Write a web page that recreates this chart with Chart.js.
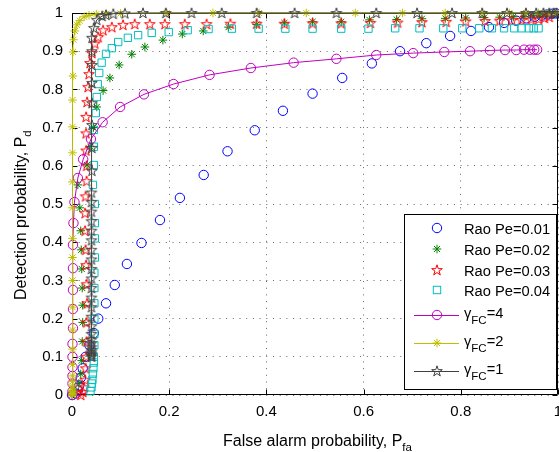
<!DOCTYPE html>
<html>
<head>
<meta charset="utf-8">
<script src="https://cdn.jsdelivr.net/npm/chart.js@4.4.0/dist/chart.umd.min.js"></script>
<style>
  html, body { margin: 0; padding: 0; background: #fff; }
  canvas { display: block; }
</style>
</head>
<body>
<canvas id="roc" width="559" height="452"></canvas>
<script>
// tick values
const xTickValues = [0, 0.2, 0.4, 0.6, 0.8, 1];
const yTickValues = [0, 0.1, 0.2, 0.3, 0.4, 0.5, 0.6, 0.7, 0.8, 0.9, 1];

// Rao Pe=0.01 (blue circles)
const rao01X = [0, 0.008, 0.012, 0.015, 0.018, 0.022, 0.028, 0.036, 0.045, 0.054, 0.07, 0.088, 0.113, 0.143, 0.181, 0.222, 0.271, 0.32, 0.376, 0.434, 0.495, 0.556, 0.617, 0.675, 0.729, 0.778, 0.821, 0.858, 0.889, 0.914, 0.935, 0.952, 0.966, 0.978, 0.988, 0.996];
const rao01Y = [0, 0.004, 0.012, 0.025, 0.045, 0.07, 0.1, 0.13, 0.162, 0.2, 0.24, 0.288, 0.343, 0.398, 0.458, 0.516, 0.576, 0.638, 0.693, 0.744, 0.789, 0.83, 0.868, 0.9, 0.921, 0.94, 0.953, 0.963, 0.974, 0.98, 0.986, 0.99, 0.993, 0.996, 0.998, 0.999];

// Rao Pe=0.02 (green asterisks)
const rao02X = [0, 0.008, 0.014, 0.018, 0.02, 0.021, 0.022, 0.022, 0.021, 0.02, 0.019, 0.018, 0.016, 0.012, 0.031, 0.038, 0.044, 0.051, 0.064, 0.078, 0.097, 0.123, 0.15, 0.187, 0.227, 0.27, 0.322, 0.38, 0.437, 0.495, 0.554, 0.612, 0.668, 0.72, 0.768, 0.81, 0.848, 0.88, 0.908, 0.93, 0.948, 0.962, 0.975];
const rao02Y = [0, 0.01, 0.03, 0.055, 0.09, 0.14, 0.19, 0.235, 0.28, 0.33, 0.38, 0.43, 0.49, 0.55, 0.602, 0.65, 0.7, 0.754, 0.797, 0.83, 0.864, 0.892, 0.911, 0.929, 0.945, 0.953, 0.963, 0.97, 0.974, 0.977, 0.977, 0.982, 0.983, 0.985, 0.986, 0.987, 0.988, 0.989, 0.99, 0.991, 0.993, 0.995, 0.997];

// Rao Pe=0.03 (red pentagrams)
const rao03X = [0.018, 0.022, 0.025, 0.027, 0.028, 0.029, 0.03, 0.03, 0.031, 0.03, 0.029, 0.028, 0.027, 0.027, 0.028, 0.03, 0.03, 0.029, 0.029, 0.029, 0.031, 0.033, 0.035, 0.037, 0.041, 0.047, 0.054, 0.064, 0.082, 0.105, 0.129, 0.16, 0.191, 0.232, 0.277, 0.326, 0.38, 0.437, 0.495, 0.554, 0.614, 0.67, 0.72, 0.77, 0.81, 0.85, 0.88, 0.905, 0.925, 0.945, 0.96, 0.972, 0.982];
const rao03Y = [0, 0.008, 0.02, 0.04, 0.07, 0.1, 0.14, 0.19, 0.24, 0.29, 0.34, 0.38, 0.43, 0.476, 0.52, 0.56, 0.6, 0.64, 0.685, 0.728, 0.767, 0.806, 0.84, 0.869, 0.895, 0.92, 0.937, 0.955, 0.963, 0.969, 0.971, 0.971, 0.971, 0.971, 0.971, 0.972, 0.972, 0.972, 0.973, 0.973, 0.974, 0.975, 0.976, 0.977, 0.978, 0.979, 0.98, 0.981, 0.982, 0.983, 0.984, 0.987, 0.99];

// Rao Pe=0.04 (cyan squares)
const rao04X = [0.038, 0.04, 0.041, 0.042, 0.043, 0.044, 0.045, 0.045, 0.046, 0.046, 0.046, 0.046, 0.046, 0.046, 0.047, 0.047, 0.047, 0.047, 0.043, 0.045, 0.045, 0.045, 0.049, 0.051, 0.053, 0.056, 0.061, 0.07, 0.082, 0.095, 0.115, 0.136, 0.164, 0.199, 0.238, 0.281, 0.329, 0.384, 0.439, 0.495, 0.554, 0.61, 0.665, 0.715, 0.764, 0.803, 0.838, 0.864, 0.889, 0.91, 0.925, 0.94, 0.95, 0.96];
const rao04Y = [0.01, 0.02, 0.03, 0.04, 0.055, 0.07, 0.085, 0.1, 0.13, 0.16, 0.2, 0.24, 0.28, 0.32, 0.36, 0.41, 0.45, 0.5, 0.55, 0.602, 0.65, 0.694, 0.738, 0.78, 0.814, 0.843, 0.87, 0.893, 0.908, 0.924, 0.935, 0.942, 0.948, 0.95, 0.955, 0.958, 0.959, 0.959, 0.959, 0.959, 0.959, 0.959, 0.96, 0.96, 0.96, 0.96, 0.96, 0.96, 0.96, 0.96, 0.96, 0.96, 0.96, 0.96];

// gamma_FC = 4 (magenta circles, line)
const gamma4X = [0.001, 0.001, 0.001, 0.001, 0.001, 0.001, 0.001, 0.002, 0.002, 0.002, 0.002, 0.002, 0.003, 0.005, 0.012, 0.023, 0.039, 0.063, 0.099, 0.148, 0.209, 0.283, 0.368, 0.456, 0.544, 0.626, 0.702, 0.766, 0.819, 0.86, 0.891, 0.914, 0.93, 0.942, 0.951, 0.957];
const gamma4Y = [0, 0.01, 0.03, 0.05, 0.073, 0.1, 0.134, 0.175, 0.225, 0.275, 0.332, 0.393, 0.45, 0.505, 0.568, 0.617, 0.67, 0.714, 0.754, 0.787, 0.814, 0.838, 0.856, 0.87, 0.88, 0.89, 0.895, 0.898, 0.9, 0.902, 0.903, 0.903, 0.904, 0.904, 0.904, 0.904];

// gamma_FC = 2 (yellow asterisks, line)
const gamma2X = [0.001, 0.001, 0.001, 0.001, 0.001, 0.001, 0.001, 0.001, 0.001, 0.001, 0.001, 0.001, 0.001, 0.001, 0.001, 0.001, 0.001, 0.001, 0.001, 0.001, 0.002, 0.002, 0.003, 0.006, 0.01, 0.016, 0.025, 0.035, 0.05, 0.07, 0.1, 0.195, 0.29, 0.385, 0.482, 0.583, 0.68, 0.768, 0.844, 0.9, 0.934, 0.96, 0.98, 0.995];
const gamma2Y = [0, 0.002, 0.005, 0.01, 0.016, 0.024, 0.035, 0.05, 0.08, 0.12, 0.17, 0.23, 0.3, 0.36, 0.41, 0.49, 0.558, 0.634, 0.702, 0.772, 0.835, 0.898, 0.93, 0.953, 0.969, 0.98, 0.99, 0.994, 0.997, 0.998, 0.999, 1, 1, 1, 1, 1, 1, 1, 1, 1, 1, 1, 1, 1];

// gamma_FC = 1 (dark grey pentagrams, line)
const gamma1X = [0.04, 0.04, 0.04, 0.04, 0.04, 0.04, 0.04, 0.04, 0.04, 0.04, 0.04, 0.04, 0.04, 0.04, 0.04, 0.04, 0.04, 0.04, 0.04, 0.04, 0.04, 0.04, 0.04, 0.04, 0.041, 0.041, 0.041, 0.041, 0.041, 0.041, 0.041, 0.041, 0.045, 0.051, 0.062, 0.07, 0.085, 0.109, 0.146, 0.193, 0.246, 0.308, 0.38, 0.458, 0.544, 0.626, 0.71, 0.782, 0.844, 0.895, 0.934, 0.955, 0.97, 0.982, 0.991, 0.997];
const gamma1Y = [0.1, 0.103, 0.107, 0.112, 0.118, 0.125, 0.135, 0.145, 0.16, 0.18, 0.205, 0.23, 0.255, 0.28, 0.305, 0.33, 0.355, 0.38, 0.405, 0.43, 0.455, 0.48, 0.505, 0.53, 0.587, 0.647, 0.707, 0.764, 0.817, 0.864, 0.9, 0.935, 0.961, 0.982, 0.992, 0.995, 0.998, 0.999, 1, 1, 1, 1, 1, 1, 1, 1, 1, 1, 1, 1, 1, 1, 1, 1, 1, 1];

const FONT = '"Liberation Sans", Arial, Helvetica, sans-serif';

function toPoints(xs, ys) {
  return xs.map((x, i) => ({ x: x, y: ys[i] }));
}

function pentagramPath(ctx, cx, cy, r) {
  const ri = r * 0.382;
  ctx.beginPath();
  for (let i = 0; i < 10; i++) {
    const rad = i % 2 ? ri : r;
    const a = -Math.PI / 2 + i * Math.PI / 5;
    const px = cx + rad * Math.cos(a), py = cy + rad * Math.sin(a);
    if (i) ctx.lineTo(px, py); else ctx.moveTo(px, py);
  }
  ctx.closePath();
}

function pentagramImage(color) {
  const c = document.createElement('canvas');
  c.width = 14; c.height = 14;
  const g = c.getContext('2d');
  pentagramPath(g, 7, 7.4, 5.6);
  g.strokeStyle = color;
  g.lineWidth = 1;
  g.stroke();
  return c;
}

function drawMarker(ctx, kind, x, y, color) {
  ctx.save();
  ctx.strokeStyle = color;
  ctx.lineWidth = 1;
  if (kind === 'circle') {
    ctx.beginPath(); ctx.arc(x, y, 4.7, 0, Math.PI * 2); ctx.stroke();
  } else if (kind === 'star') {
    const r = 4.3, d = r * Math.SQRT1_2;
    ctx.beginPath();
    ctx.moveTo(x - r, y); ctx.lineTo(x + r, y);
    ctx.moveTo(x, y - r); ctx.lineTo(x, y + r);
    ctx.moveTo(x - d, y - d); ctx.lineTo(x + d, y + d);
    ctx.moveTo(x - d, y + d); ctx.lineTo(x + d, y - d);
    ctx.stroke();
  } else if (kind === 'rect') {
    ctx.strokeRect(x - 3.7, y - 3.7, 7.4, 7.4);
  } else if (kind === 'pentagram') {
    pentagramPath(ctx, x, y + 0.4, 5.6); ctx.stroke();
  }
  ctx.restore();
}

// text with optional _{sub} parts
function drawRich(ctx, str, x, y, size, subSize, subDrop) {
  const parts = [];
  const re = /_\{([^}]*)\}/g;
  let last = 0, m;
  while ((m = re.exec(str))) {
    if (m.index > last) parts.push({ t: str.slice(last, m.index), sub: false });
    parts.push({ t: m[1], sub: true });
    last = re.lastIndex;
  }
  if (last < str.length) parts.push({ t: str.slice(last), sub: false });
  ctx.textAlign = 'left';
  ctx.textBaseline = 'alphabetic';
  let cx = x;
  parts.forEach(p => {
    ctx.font = (p.sub ? subSize : size) + 'px ' + FONT;
    ctx.fillText(p.t, cx, p.sub ? y + subDrop : y);
    cx += ctx.measureText(p.t).width;
  });
}

const series = [
  { label: 'Rao Pe=0.01', xs: rao01X, ys: rao01Y, color: '#0000ff', marker: 'circle', line: false },
  { label: 'Rao Pe=0.02', xs: rao02X, ys: rao02Y, color: '#008000', marker: 'star', line: false },
  { label: 'Rao Pe=0.03', xs: rao03X, ys: rao03Y, color: '#ff0000', marker: 'pentagram', line: false },
  { label: 'Rao Pe=0.04', xs: rao04X, ys: rao04Y, color: '#00bfbf', marker: 'rect', line: false },
  { label: 'γ_{FC}=4', xs: gamma4X, ys: gamma4Y, color: '#bf00bf', marker: 'circle', line: true },
  { label: 'γ_{FC}=2', xs: gamma2X, ys: gamma2Y, color: '#bfbf00', marker: 'star', line: true },
  { label: 'γ_{FC}=1', xs: gamma1X, ys: gamma1Y, color: '#404040', marker: 'pentagram', line: true }
];

const radii = { circle: 4.7, star: 4.3, rect: 5.2, pentagram: 6 };

const datasets = series.map((s, i) => ({
  label: s.label,
  data: toPoints(s.xs, s.ys),
  showLine: s.line,
  borderColor: s.color,
  borderWidth: 1,
  backgroundColor: 'rgba(0,0,0,0)',
  pointStyle: s.marker === 'pentagram' ? pentagramImage(s.color) : (s.marker === 'rect' ? 'rect' : s.marker),
  pointRadius: radii[s.marker],
  pointBorderColor: s.color,
  pointBackgroundColor: 'rgba(0,0,0,0)',
  pointBorderWidth: 1,
  tension: 0,
  clip: false,
  order: -i
}));

const framePlugin = {
  id: 'frame',
  beforeDatasetsDraw(chart) {
    const { ctx, chartArea: a, scales } = chart;
    const L = Math.round(a.left) + 0.5, R = Math.round(a.right) - 0.5;
    const T = Math.round(a.top) + 0.5, B = Math.round(a.bottom) - 0.5;
    ctx.save();
    ctx.strokeStyle = '#000';
    ctx.lineWidth = 1;
    ctx.beginPath();
    ctx.rect(L, T, R - L, B - T);
    xTickValues.forEach(v => {
      const px = Math.round(scales.x.getPixelForValue(v)) + 0.5;
      ctx.moveTo(px, B); ctx.lineTo(px, B - 5);
      ctx.moveTo(px, T); ctx.lineTo(px, T + 5);
    });
    yTickValues.forEach(v => {
      const py = Math.round(scales.y.getPixelForValue(v)) + 0.5;
      ctx.moveTo(L, py); ctx.lineTo(L + 5, py);
      ctx.moveTo(R, py); ctx.lineTo(R - 5, py);
    });
    ctx.stroke();
    ctx.restore();
  },
  afterDraw(chart) {
    const ctx = chart.ctx;
    ctx.save();
    ctx.fillStyle = '#000';
    // axis titles
    drawRich(ctx, 'False alarm probability, P_{fa}', 223, 446, 16, 11.5, 5);
    ctx.save();
    ctx.translate(26, 300);
    ctx.rotate(-Math.PI / 2);
    drawRich(ctx, 'Detection probability, P_{d}', 0, 0, 16, 11.5, 5);
    ctx.restore();

    // legend
    const box = { l: 404.5, t: 214.5, r: 556.5, b: 389.5 };
    ctx.fillStyle = '#fff';
    ctx.fillRect(box.l, box.t, box.r - box.l, box.b - box.t);
    ctx.strokeStyle = '#000';
    ctx.lineWidth = 1;
    ctx.strokeRect(box.l, box.t, box.r - box.l, box.b - box.t);
    const rowY = [228, 249, 270, 290, 315, 343, 371];
    series.forEach((s, i) => {
      const y = rowY[i];
      if (s.line) {
        ctx.beginPath();
        ctx.strokeStyle = s.color;
        ctx.moveTo(414, y + 0.5); ctx.lineTo(459, y + 0.5);
        ctx.stroke();
      }
      drawMarker(ctx, s.marker, 437, y, s.color);
      ctx.fillStyle = '#000';
      drawRich(ctx, s.label, 464, s.line ? y + 3 : y + 5.5, 14.7, 11.5, 6);
    });
    ctx.restore();
  }
};

new Chart(document.getElementById('roc'), {
  type: 'scatter',
  data: { datasets: datasets },
  options: {
    responsive: false,
    animation: false,
    devicePixelRatio: 1,
    events: [],
    layout: { autoPadding: false, padding: { top: 13, right: 1, left: 0, bottom: 0 } },
    plugins: { legend: { display: false }, tooltip: { enabled: false }, title: { display: false } },
    scales: {
      x: {
        type: 'linear',
        min: 0, max: 1,
        afterBuildTicks: s => { s.ticks = xTickValues.map(v => ({ value: v })); },
        afterFit: s => { s.height = 57; s.paddingLeft = 0; s.paddingRight = 0; },
        grid: { color: '#666', lineWidth: 1, drawTicks: false },
        border: { display: false, dash: [1, 5.7] },
        ticks: {
          autoSkip: false, maxRotation: 0, padding: 8, color: '#000',
          font: { family: FONT, size: 15 },
          callback: v => String(Math.round(v * 10) / 10)
        }
      },
      y: {
        type: 'linear',
        min: 0, max: 1,
        afterBuildTicks: s => { s.ticks = yTickValues.map(v => ({ value: v })); },
        afterFit: s => { s.width = 72; s.paddingTop = 0; s.paddingBottom = 0; },
        grid: { color: '#666', lineWidth: 1, drawTicks: false },
        border: { display: false, dash: [1, 5.7] },
        ticks: {
          autoSkip: false, padding: 9, color: '#000',
          font: { family: FONT, size: 15 },
          callback: v => String(Math.round(v * 10) / 10)
        }
      }
    }
  },
  plugins: [framePlugin]
});
</script>
</body>
</html>
